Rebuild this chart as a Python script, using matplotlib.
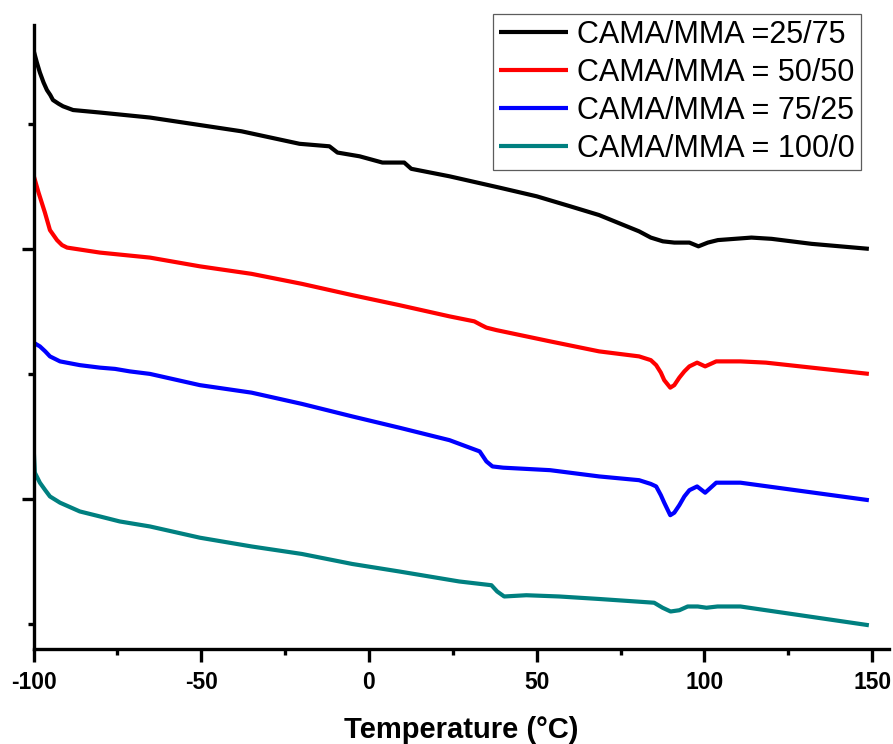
import matplotlib
matplotlib.use("Agg")
import matplotlib.pyplot as plt
from matplotlib.ticker import FixedLocator, MultipleLocator, NullFormatter

plt.rcParams['font.family'] = ['Liberation Sans', 'DejaVu Sans']
plt.rcParams['axes.unicode_minus'] = False

labels = ["CAMA/MMA =25/75", "CAMA/MMA = 50/50", "CAMA/MMA = 75/25", "CAMA/MMA = 100/0"]
colors = ["#000000", "#ff0000", "#0000ff", "#008080"]

t_2575 = [-100, -99, -98.1, -97, -96, -95, -94.2, -92.5, -91.2, -88.2, -80.2, -65.3, -50.4, -38,
          -20.7, -11.8, -9.4, -2.8, 4.0, 9.1, 10.5, 12.6, 24, 38.8, 50, 60, 68.6, 75, 80.5, 84,
          87.6, 91, 93.8, 95.5, 98.2, 101, 104, 109, 114, 120, 131.9, 149]
v_2575 = [4.59, 4.49, 4.41, 4.33, 4.27, 4.23, 4.19, 4.16, 4.14, 4.11, 4.09, 4.05, 3.99, 3.94,
          3.84, 3.82, 3.77, 3.74, 3.69, 3.69, 3.69, 3.64, 3.58, 3.49, 3.42, 3.34, 3.27, 3.20, 3.14, 3.09,
          3.06, 3.05, 3.05, 3.05, 3.02, 3.05, 3.07, 3.08, 3.09, 3.08, 3.04, 3.00]

t_5050 = [-100, -98.5, -96.6, -95.1, -93.0, -91.5, -90.0, -80.2, -65.3, -50.4, -35, -20, -5, 9, 24,
          31.4, 33.5, 35.0, 38.0, 54, 68.6, 80.5, 84, 85.6, 87, 88.0, 89.8, 91, 92.5, 94, 95.5, 97.8,
          100.2, 103.5, 110.7, 118.3, 149]
v_5050 = [3.59, 3.45, 3.29, 3.15, 3.07, 3.03, 3.01, 2.97, 2.93, 2.86, 2.80, 2.72, 2.63, 2.55, 2.46,
          2.42, 2.39, 2.37, 2.35, 2.26, 2.18, 2.14, 2.11, 2.07, 2.01, 1.95, 1.89, 1.91, 1.97, 2.02, 2.06, 2.09,
          2.06, 2.10, 2.10, 2.09, 2.00]

t_7525 = [-100, -98.1, -96.5, -95.1, -92.1, -86.2, -80.2, -75.7, -71.3, -65.3, -50.4, -35, -20, -5,
          9, 24, 33.0, 35.0, 36.8, 40, 54, 68.6, 80.5, 84, 85.6, 87, 88.0, 89.8, 91, 92.5, 94, 95.5,
          97.8, 100.2, 103.5, 110.7, 149]
v_7525 = [2.25, 2.22, 2.18, 2.14, 2.10, 2.07, 2.05, 2.04, 2.02, 2.00, 1.91, 1.85, 1.76, 1.66,
          1.57, 1.47, 1.38, 1.30, 1.26, 1.25, 1.23, 1.18, 1.15, 1.12, 1.10, 1.03, 0.97, 0.87, 0.89, 0.95, 1.02, 1.07,
          1.10, 1.05, 1.13, 1.13, 0.99]

t_1000 = [-100, -99.6, -98.1, -96.5, -95.1, -92.1, -86.2, -80.2, -74.3, -65.3, -50.4, -35, -20, -5,
          9, 26.9, 36.5, 38.2, 40.3, 46.9, 56.7, 68.6, 85, 87.5, 89.9, 92.5, 95, 98, 100.6, 103.9,
          110.7, 149]
v_1000 = [1.43, 1.21, 1.13, 1.07, 1.02, 0.97, 0.90, 0.86, 0.82, 0.78, 0.69, 0.62, 0.56, 0.48,
          0.42, 0.34, 0.31, 0.26, 0.22, 0.23, 0.22, 0.20, 0.17, 0.13, 0.10, 0.11, 0.14, 0.14, 0.13, 0.14,
          0.14, -0.01]

series = [(t_2575, v_2575), (t_5050, v_5050), (t_7525, v_7525), (t_1000, v_1000)]

x_major = [-100, -50, 0, 50, 100, 150]

fig = plt.figure(figsize=(8.93, 7.44), dpi=100)
ax = fig.add_axes([33.5 / 893, 95 / 744, (889 - 33.5) / 893, (649 - 25) / 744])

for (t, v), c, lab in zip(series, colors, labels):
    ax.plot(t, v, color=c, lw=3.0, label=lab, solid_joinstyle='round', solid_capstyle='butt')

ax.set_xlim(-100, 155)
ax.set_ylim(-0.2, 4.79)

for s in ['top', 'right']:
    ax.spines[s].set_visible(False)
for s in ['left', 'bottom']:
    ax.spines[s].set_linewidth(2.4)

ax.xaxis.set_major_locator(FixedLocator(x_major))
ax.xaxis.set_minor_locator(MultipleLocator(25))
ax.yaxis.set_major_locator(FixedLocator([1, 3]))
ax.yaxis.set_minor_locator(FixedLocator([0, 2, 4]))
ax.yaxis.set_major_formatter(NullFormatter())

ax.tick_params(axis='both', which='major', direction='out', length=9, width=2.4)
ax.tick_params(axis='both', which='minor', direction='out', length=4.5, width=2.4)
ax.tick_params(axis='x', which='major', labelsize=16.5, pad=7)
for lbl in ax.get_xticklabels():
    lbl.set_fontweight('bold')

ax.set_xlabel("Temperature (°C)", fontsize=21, fontweight='bold', labelpad=16)

leg = ax.legend(loc='upper right', bbox_to_anchor=(861 / 893, (744 - 14) / 744),
                bbox_transform=fig.transFigure, fontsize=22, frameon=True, fancybox=False,
                borderaxespad=0, borderpad=0.2, handlelength=2.25, handletextpad=0.3,
                labelspacing=0.26)
leg.get_frame().set_edgecolor('#333333')
leg.get_frame().set_linewidth(0.9)

fig.savefig("out.png", dpi=100)
